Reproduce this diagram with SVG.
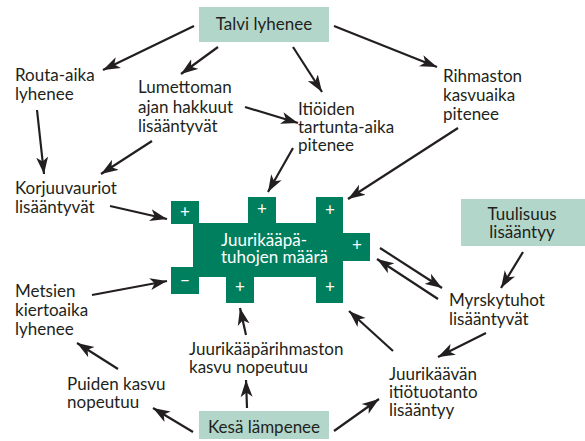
<svg xmlns="http://www.w3.org/2000/svg" width="585" height="441" viewBox="0 0 585 441">
<style>
.t{font-family:Lato,"Liberation Sans",sans-serif;font-size:17px;fill:#231f20}
.w{font-family:Lato,"Liberation Sans",sans-serif;font-size:17px;fill:#ffffff}
.s{font-family:Lato,"Liberation Sans",sans-serif;font-size:17px;fill:#ffffff;text-anchor:middle}
.c{text-anchor:middle}
.box{fill:#b2d6ca}
.g{fill:#007f5f}
.a{stroke:#231f20;stroke-width:2.2;fill:none;marker-end:url(#ah)}
</style>
<defs>
<marker id="ah" markerUnits="userSpaceOnUse" markerWidth="18" markerHeight="13" refX="17" refY="6" orient="auto" viewBox="0 0 18 12">
<path d="M0,0 L17,6 L0,12 L4.5,6 z" fill="#231f20"/>
</marker>
</defs>
<rect width="585" height="441" fill="#ffffff"/>
<g id="talvi"><rect class="box" x="199" y="7" width="130" height="35"/><text class="t c" x="264" y="30">Talvi lyhenee</text></g>
<g id="tuulisuus"><rect class="box" x="461" y="199" width="124" height="47"/><text class="t c" x="522" y="220">Tuulisuus</text><text class="t c" x="522" y="238">lisääntyy</text></g>
<g id="kesa"><rect class="box" x="199" y="411" width="130" height="28"/><text class="t c" x="264" y="433">Kesä lämpenee</text></g>
<g id="routa"><text class="t" x="15" y="81">Routa-aika</text><text class="t" x="15" y="100">lyhenee</text></g>
<g id="lumettoman"><text class="t" x="138" y="93">Lumettoman</text><text class="t" x="138" y="113">ajan hakkuut</text><text class="t" x="138" y="132">lisääntyvät</text></g>
<g id="itioiden"><text class="t" x="298" y="115">Itiöiden</text><text class="t" x="298" y="133">tartunta-aika</text><text class="t" x="298" y="151">pitenee</text></g>
<g id="rihmaston"><text class="t" x="443" y="82">Rihmaston</text><text class="t" x="443" y="101">kasvuaika</text><text class="t" x="443" y="120">pitenee</text></g>
<g id="korjuu"><text class="t" x="15" y="194">Korjuuvauriot</text><text class="t" x="15" y="213">lisääntyvät</text></g>
<g id="metsien"><text class="t" x="15" y="297">Metsien</text><text class="t" x="15" y="316">kiertoaika</text><text class="t" x="15" y="335">lyhenee</text></g>
<g id="puiden"><text class="t" x="67" y="390">Puiden kasvu</text><text class="t" x="67" y="408">nopeutuu</text></g>
<g id="rihmkasvu"><text class="t" x="189" y="355">Juurikääpärihmaston</text><text class="t" x="189" y="373">kasvu nopeutuu</text></g>
<g id="myrsky"><text class="t" x="449" y="306">Myrskytuhot</text><text class="t" x="449" y="325">lisääntyvät</text></g>
<g id="itiotuotanto"><text class="t" x="389" y="380">Juurikäävän</text><text class="t" x="389" y="398">itiötuotanto</text><text class="t" x="389" y="416">lisääntyy</text></g>
<g id="tuhot">
<rect class="g" x="193" y="223" width="150" height="54"/>
<rect class="g" x="171" y="201" width="28" height="23"/>
<rect class="g" x="248" y="197" width="28" height="27"/>
<rect class="g" x="316" y="197" width="27" height="27"/>
<rect class="g" x="342" y="233" width="28" height="28"/>
<rect class="g" x="171" y="267" width="28" height="27"/>
<rect class="g" x="226" y="276" width="28" height="27"/>
<rect class="g" x="316" y="276" width="27" height="27"/>
<text class="w" x="221" y="246">Juurikääpä-</text>
<text class="w" x="221" y="263">tuhojen määrä</text>
<text class="s" x="185" y="218">+</text>
<text class="s" x="262" y="215">+</text>
<text class="s" x="330" y="216">+</text>
<text class="s" x="357" y="251">+</text>
<text class="s" x="185" y="286">−</text>
<text class="s" x="240" y="293">+</text>
<text class="s" x="330" y="293">+</text>
</g>
<g id="connectors">
<line class="a" x1="194" y1="26" x2="103" y2="70"/>
<line class="a" x1="218" y1="47" x2="181" y2="74"/>
<line class="a" x1="293" y1="47" x2="322" y2="92"/>
<line class="a" x1="334" y1="26" x2="437" y2="67"/>
<line class="a" x1="37" y1="110" x2="44" y2="174"/>
<line class="a" x1="152" y1="141" x2="101" y2="174"/>
<line class="a" x1="245" y1="107" x2="298" y2="123"/>
<line class="a" x1="293" y1="148" x2="268" y2="192"/>
<line class="a" x1="458" y1="128" x2="348" y2="199"/>
<line class="a" x1="110" y1="206" x2="167" y2="219"/>
<line class="a" x1="523" y1="252" x2="501" y2="288"/>
<line class="a" x1="380" y1="248" x2="442" y2="288"/>
<line class="a" x1="438" y1="299" x2="377" y2="259"/>
<line class="a" x1="486" y1="333" x2="438" y2="357"/>
<line class="a" x1="393" y1="351" x2="349" y2="311"/>
<line class="a" x1="334" y1="431" x2="379" y2="399"/>
<line class="a" x1="92" y1="295" x2="167" y2="281"/>
<line class="a" x1="118" y1="369" x2="77" y2="343"/>
<line class="a" x1="193" y1="432" x2="153" y2="408"/>
<line class="a" x1="246" y1="335" x2="240" y2="308"/>
<line class="a" x1="247" y1="408" x2="246" y2="380"/>
</g>
</svg>
